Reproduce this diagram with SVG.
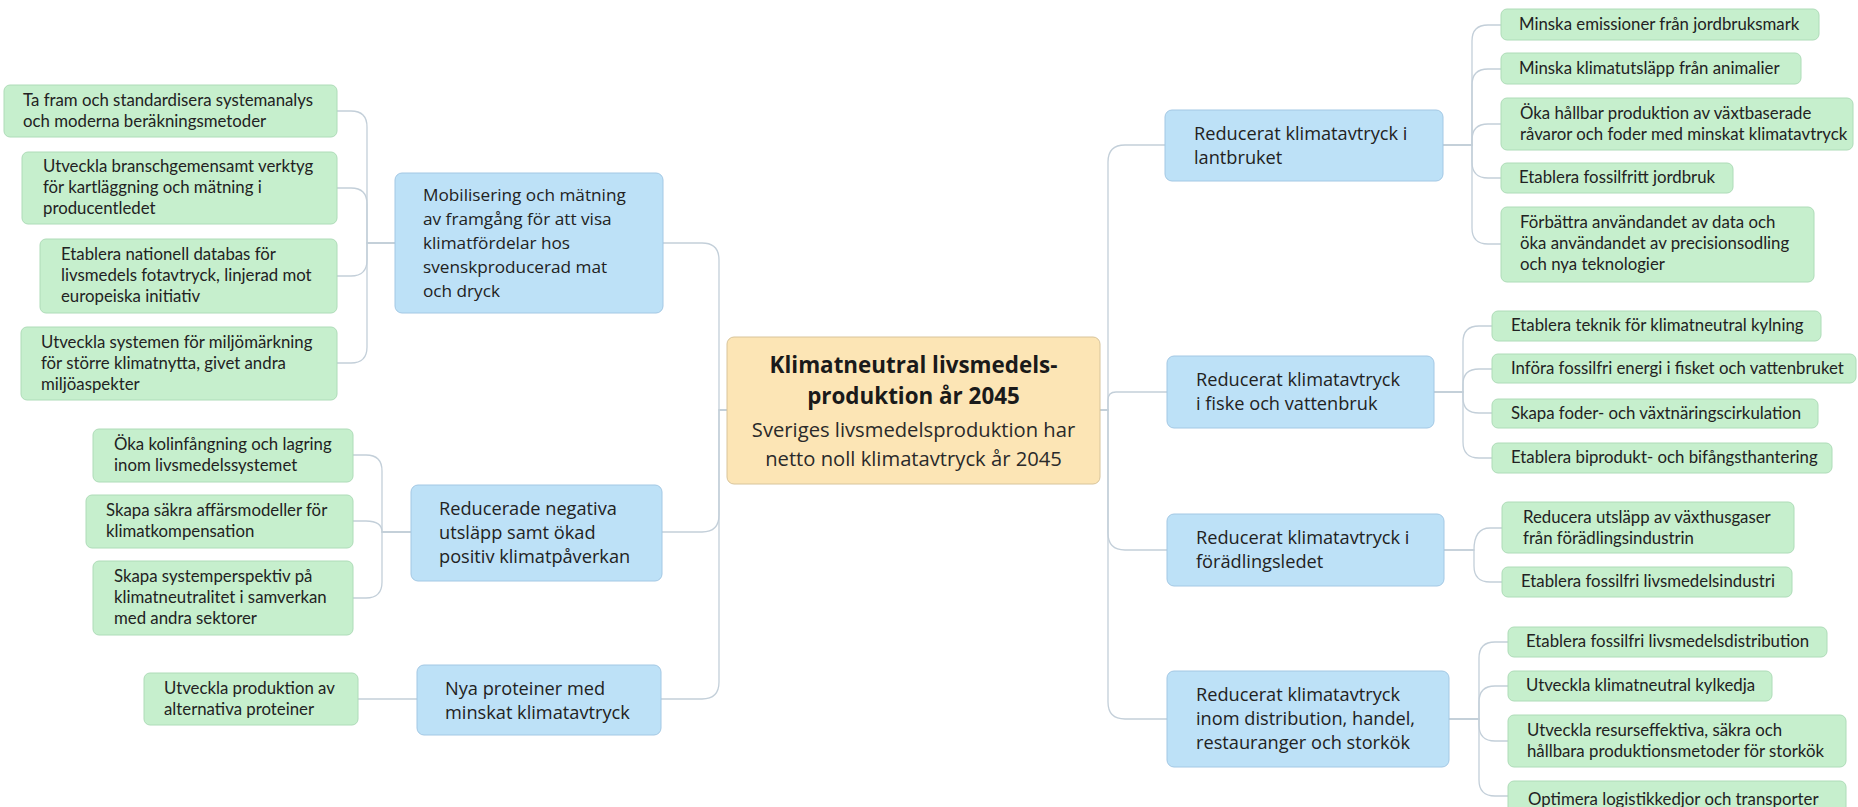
<svg xmlns="http://www.w3.org/2000/svg" width="1858" height="807" viewBox="0 0 1858 807">
<style>
.bg{fill:#ffffff}
.g rect{fill:#c6efcd;stroke:#aedcb8;stroke-width:1}
.b rect{fill:#bde1f7;stroke:#a3c8e4;stroke-width:1}
.c rect{fill:#fce5b5;stroke:#d8c49a;stroke-width:1}
.g text{font-family:Lato,"Liberation Sans",sans-serif;font-size:16.8px;fill:#222}
.b text{font-family:"Open Sans","Noto Sans",sans-serif;font-size:18.2px;fill:#222}
#b1 text{font-size:17.2px}
.c .t{font-family:"Open Sans","Noto Sans",sans-serif;font-size:22.4px;font-weight:bold;fill:#1a1a1a;text-anchor:middle}
.c .s{font-family:"Open Sans","Noto Sans",sans-serif;font-size:20.2px;fill:#2a2a2a;text-anchor:middle}
#connectors path{fill:none;stroke:#c3cfd9;stroke-width:1.3}
</style>
<rect class="bg" x="0" y="0" width="1858" height="807"/>
<g id="connectors">
<path d="M727,410 H719 V260 Q719,243 702,243 H663"/>
<path d="M727,410 H719 V515 Q719,532 702,532 H662"/>
<path d="M727,410 H719 V682 Q719,699 702,699 H661"/>
<path d="M1100,410 H1108 V162 Q1108,145 1125,145 H1165"/>
<path d="M1100,410 H1108 V400 Q1108,392 1116,392 H1167"/>
<path d="M1100,410 H1108 V533 Q1108,550 1125,550 H1167"/>
<path d="M1100,410 H1108 V702 Q1108,719 1125,719 H1167"/>
<path d="M395,243 H367 V127 Q367,111 351,111 H337"/>
<path d="M395,243 H367 V204 Q367,188 351,188 H337"/>
<path d="M395,243 H367 V260 Q367,276 351,276 H337"/>
<path d="M395,243 H367 V347 Q367,363 351,363 H337"/>
<path d="M411,532 H382 V471 Q382,455 366,455 H353"/>
<path d="M411,532 H382 Q382,521 366,521 H353"/>
<path d="M411,532 H382 V582 Q382,598 366,598 H353"/>
<path d="M417,699 H358"/>
<path d="M1443,145 H1472 V41 Q1472,25 1488,25 H1501"/>
<path d="M1443,145 H1472 V85 Q1472,69 1488,69 H1501"/>
<path d="M1443,145 H1472 V140 Q1472,124 1488,124 H1501"/>
<path d="M1443,145 H1472 V162 Q1472,178 1488,178 H1501"/>
<path d="M1443,145 H1472 V228 Q1472,244 1488,244 H1501"/>
<path d="M1434,392 H1463 V342 Q1463,326 1479,326 H1492"/>
<path d="M1434,392 H1463 V384 Q1463,369 1479,369 H1492"/>
<path d="M1434,392 H1463 V398 Q1463,413 1479,413 H1492"/>
<path d="M1434,392 H1463 V442 Q1463,458 1479,458 H1492"/>
<path d="M1444,550 H1474 Q1474,528 1490,528 H1502"/>
<path d="M1444,550 H1474 V566 Q1474,582 1490,582 H1502"/>
<path d="M1449,719 H1479 V658 Q1479,642 1495,642 H1508"/>
<path d="M1449,719 H1479 V702 Q1479,686 1495,686 H1508"/>
<path d="M1449,719 H1479 V725 Q1479,741 1495,741 H1508"/>
<path d="M1449,719 H1479 V780 Q1479,796 1495,796 H1508"/>
</g>

<g id="center" class="c">
<rect x="727" y="337" width="373" height="147" rx="7"/>
<text class="t" x="913.5" y="373">Klimatneutral livsmedels-</text>
<text class="t" x="913.5" y="404">produktion år 2045</text>
<text class="s" x="913.5" y="437">Sveriges livsmedelsproduktion har</text>
<text class="s" x="913.5" y="466">netto noll klimatavtryck år 2045</text>
</g>

<g id="b1" class="b">
<rect x="395" y="173" width="268" height="140" rx="7"/>
<text x="423" y="201">Mobilisering och mätning</text>
<text x="423" y="225">av framgång för att visa</text>
<text x="423" y="249">klimatfördelar hos</text>
<text x="423" y="273">svenskproducerad mat</text>
<text x="423" y="297">och dryck</text>
</g>
<g id="b2" class="b">
<rect x="411" y="485" width="251" height="96" rx="7"/>
<text x="439" y="515">Reducerade negativa</text>
<text x="439" y="539">utsläpp samt ökad</text>
<text x="439" y="563">positiv klimatpåverkan</text>
</g>
<g id="b3" class="b">
<rect x="417" y="665" width="244" height="70" rx="7"/>
<text x="445" y="695">Nya proteiner med</text>
<text x="445" y="719">minskat klimatavtryck</text>
</g>

<g id="r1" class="b">
<rect x="1165" y="110" width="278" height="71" rx="7"/>
<text x="1194" y="140">Reducerat klimatavtryck i</text>
<text x="1194" y="164">lantbruket</text>
</g>
<g id="r2" class="b">
<rect x="1167" y="356" width="267" height="72" rx="7"/>
<text x="1196" y="386">Reducerat klimatavtryck</text>
<text x="1196" y="410">i fiske och vattenbruk</text>
</g>
<g id="r3" class="b">
<rect x="1167" y="514" width="277" height="72" rx="7"/>
<text x="1196" y="544">Reducerat klimatavtryck i</text>
<text x="1196" y="568">förädlingsledet</text>
</g>
<g id="r4" class="b">
<rect x="1167" y="671" width="282" height="96" rx="7"/>
<text x="1196" y="701">Reducerat klimatavtryck</text>
<text x="1196" y="725">inom distribution, handel,</text>
<text x="1196" y="749">restauranger och storkök</text>
</g>

<g id="g1" class="g">
<rect x="4" y="85" width="333" height="52" rx="6"/>
<text x="23" y="106">Ta fram och standardisera systemanalys</text>
<text x="23" y="127">och moderna beräkningsmetoder</text>
</g>
<g id="g2" class="g">
<rect x="22" y="152" width="315" height="72" rx="6"/>
<text x="43" y="172">Utveckla branschgemensamt verktyg</text>
<text x="43" y="193">för kartläggning och mätning i</text>
<text x="43" y="214">producentledet</text>
</g>
<g id="g3" class="g">
<rect x="40" y="239" width="297" height="74" rx="6"/>
<text x="61" y="260">Etablera nationell databas för</text>
<text x="61" y="281">livsmedels fotavtryck, linjerad mot</text>
<text x="61" y="302">europeiska initiativ</text>
</g>
<g id="g4" class="g">
<rect x="21" y="327" width="316" height="73" rx="6"/>
<text x="41" y="348">Utveckla systemen för miljömärkning</text>
<text x="41" y="369">för större klimatnytta, givet andra</text>
<text x="41" y="390">miljöaspekter</text>
</g>
<g id="g5" class="g">
<rect x="93" y="429" width="260" height="53" rx="6"/>
<text x="114" y="450">Öka kolinfångning och lagring</text>
<text x="114" y="471">inom livsmedelssystemet</text>
</g>
<g id="g6" class="g">
<rect x="86" y="495" width="267" height="53" rx="6"/>
<text x="106" y="516">Skapa säkra affärsmodeller för</text>
<text x="106" y="537">klimatkompensation</text>
</g>
<g id="g7" class="g">
<rect x="93" y="561" width="260" height="74" rx="6"/>
<text x="114" y="582">Skapa systemperspektiv på</text>
<text x="114" y="603">klimatneutralitet i samverkan</text>
<text x="114" y="624">med andra sektorer</text>
</g>
<g id="g8" class="g">
<rect x="144" y="673" width="214" height="52" rx="6"/>
<text x="164" y="694">Utveckla produktion av</text>
<text x="164" y="715">alternativa proteiner</text>
</g>

<g id="r1a" class="g">
<rect x="1501" y="9" width="318" height="31" rx="6"/>
<text x="1519" y="30">Minska emissioner från jordbruksmark</text>
</g>
<g id="r1b" class="g">
<rect x="1501" y="53" width="300" height="31" rx="6"/>
<text x="1519" y="74">Minska klimatutsläpp från animalier</text>
</g>
<g id="r1c" class="g">
<rect x="1501" y="98" width="352" height="52" rx="6"/>
<text x="1520" y="119">Öka hållbar produktion av växtbaserade</text>
<text x="1520" y="140">råvaror och foder med minskat klimatavtryck</text>
</g>
<g id="r1d" class="g">
<rect x="1501" y="163" width="232" height="30" rx="6"/>
<text x="1519" y="183">Etablera fossilfritt jordbruk</text>
</g>
<g id="r1e" class="g">
<rect x="1501" y="207" width="313" height="75" rx="6"/>
<text x="1520" y="228">Förbättra användandet av data och</text>
<text x="1520" y="249">öka användandet av precisionsodling</text>
<text x="1520" y="270">och nya teknologier</text>
</g>

<g id="r2a" class="g">
<rect x="1492" y="311" width="329" height="30" rx="6"/>
<text x="1511" y="331">Etablera teknik för klimatneutral kylning</text>
</g>
<g id="r2b" class="g">
<rect x="1492" y="354" width="364" height="29" rx="6"/>
<text x="1511" y="374">Införa fossilfri energi i fisket och vattenbruket</text>
</g>
<g id="r2c" class="g">
<rect x="1492" y="399" width="326" height="29" rx="6"/>
<text x="1511" y="419">Skapa foder- och växtnäringscirkulation</text>
</g>
<g id="r2d" class="g">
<rect x="1492" y="443" width="340" height="30" rx="6"/>
<text x="1511" y="463">Etablera biprodukt- och bifångsthantering</text>
</g>

<g id="r3a" class="g">
<rect x="1502" y="502" width="292" height="51" rx="6"/>
<text x="1523" y="523">Reducera utsläpp av växthusgaser</text>
<text x="1523" y="544">från förädlingsindustrin</text>
</g>
<g id="r3b" class="g">
<rect x="1502" y="567" width="290" height="30" rx="6"/>
<text x="1521" y="587">Etablera fossilfri livsmedelsindustri</text>
</g>

<g id="r4a" class="g">
<rect x="1508" y="627" width="319" height="30" rx="6"/>
<text x="1526" y="647">Etablera fossilfri livsmedelsdistribution</text>
</g>
<g id="r4b" class="g">
<rect x="1508" y="671" width="264" height="30" rx="6"/>
<text x="1526" y="691">Utveckla klimatneutral kylkedja</text>
</g>
<g id="r4c" class="g">
<rect x="1508" y="715" width="338" height="52" rx="6"/>
<text x="1527" y="736">Utveckla resurseffektiva, säkra och</text>
<text x="1527" y="757">hållbara produktionsmetoder för storkök</text>
</g>
<g id="r4d" class="g">
<rect x="1508" y="781" width="338" height="38" rx="6"/>
<text x="1528" y="805">Optimera logistikkedjor och transporter</text>
</g>
</svg>
